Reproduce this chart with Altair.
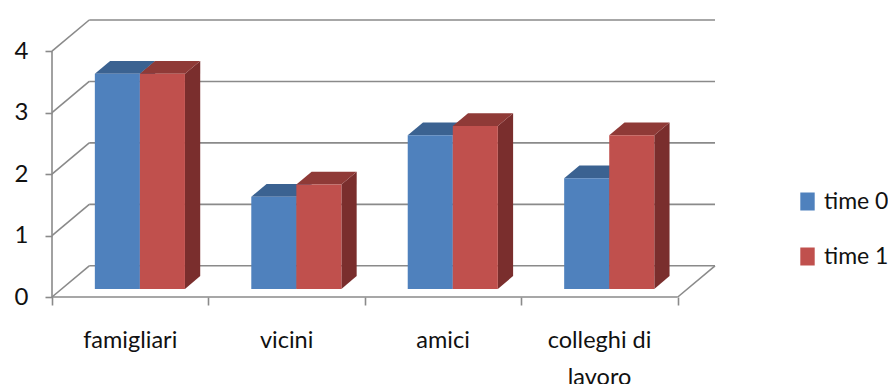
import altair as alt
import pandas as pd

# Mean scores per relationship type at two time points
categories = ["famigliari", "vicini", "amici", "colleghi di lavoro"]
category_labels = ["famigliari", "vicini", "amici", "colleghi di\nlavoro"]
series = ["time 0", "time 1"]
time0 = [3.5, 1.5, 2.5, 1.8]
time1 = [3.5, 1.7, 2.65, 2.5]
y_ticks = [0, 1, 2, 3, 4]

front_colors = ["#4F81BD", "#C0504D"]
top_colors = ["#3B6291", "#8F3A37"]
side_colors = ["#2E4D73", "#7A2E2D"]

FONT = "Lato"
TEXT = "#111111"
GRID = "#8a8a8a"

# Oblique projection of the box: full depth expressed in x-slot and value units
DX, DY = 0.238, 0.508
T_FRONT, T_BACK = 0.26, 0.67   # depth fractions of the bar front and back faces
BAR_W = 0.288                  # bar width, in category-slot units
N = len(categories)

values = [time0, time1]
fronts, tops, sides = [], [], []
for i, cat in enumerate(categories):
    for s, name in enumerate(series):
        v = values[s][i]
        x0 = i + 0.5 - BAR_W + s * BAR_W + T_FRONT * DX
        x1 = x0 + BAR_W
        base = T_FRONT * DY
        fronts.append(dict(cat=cat, series=name, x0=x0, x1=x1, y0=base, y1=v + base))
        ddx = (T_BACK - T_FRONT) * DX
        ddy = (T_BACK - T_FRONT) * DY
        face = f"{cat}-{name}"
        tops.append(dict(face=face, fill=top_colors[s], yy=v + base, xa=x0, xb=x1))
        tops.append(dict(face=face, fill=top_colors[s], yy=v + base + ddy, xa=x0 + ddx, xb=x1 + ddx))
        sides.append(dict(face=face, fill=side_colors[s], xx=x1, ya=base, yb=v + base))
        sides.append(dict(face=face, fill=side_colors[s], xx=x1 + ddx, ya=base + ddy, yb=v + base + ddy))

fronts = pd.DataFrame(fronts)
tops = pd.DataFrame(tops)
sides = pd.DataFrame(sides)

# Wall, floor and axis lines
lines = []
for v in y_ticks:
    lines.append(dict(x=DX, x2=N + DX, y=v + DY, y2=v + DY))   # back wall gridline
    lines.append(dict(x=0, x2=DX, y=v, y2=v + DY))             # left wall diagonal
lines.append(dict(x=0, x2=N, y=0, y2=0))                       # floor front edge
lines.append(dict(x=N, x2=N + DX, y=0, y2=DY))                 # floor right edge
lines.append(dict(x=0, x2=0, y=0, y2=max(y_ticks)))            # value axis line
lines = pd.DataFrame(lines)

labels = pd.DataFrame(dict(label=category_labels, pos=[i + 0.5 for i in range(N)]))

xs = alt.Scale(domain=[0, N + DX], nice=False, zero=False)
ys = alt.Scale(domain=[0, max(y_ticks) + DY], nice=False, zero=False)

x_axis = alt.Axis(values=list(range(N + 1)), title=None, domain=False, grid=False,
                  labels=False, tickSize=8, tickColor=GRID, tickWidth=1.6)
y_axis = alt.Axis(values=y_ticks, title=None, domain=False, grid=False, tickSize=7,
                  tickColor=GRID, tickWidth=1.6, labelFont=FONT, labelFontSize=24,
                  labelColor=TEXT, labelPadding=17)

frame = alt.Chart(lines).mark_rule(color=GRID, strokeWidth=1.6).encode(
    x=alt.X("x:Q", scale=xs, axis=x_axis),
    x2="x2:Q",
    y=alt.Y("y:Q", scale=ys, axis=y_axis),
    y2="y2:Q",
)

side_layer = alt.Chart(sides).mark_area(orient="vertical").encode(
    x=alt.X("xx:Q", scale=xs, axis=x_axis, stack=None),
    y=alt.Y("ya:Q", scale=ys, axis=y_axis, stack=None),
    y2="yb:Q",
    detail="face:N",
    color=alt.Color("fill:N", scale=None),
)

top_layer = alt.Chart(tops).mark_area(orient="horizontal").encode(
    y=alt.Y("yy:Q", scale=ys, axis=y_axis, stack=None),
    x=alt.X("xa:Q", scale=xs, axis=x_axis, stack=None),
    x2="xb:Q",
    detail="face:N",
    color=alt.Color("fill:N", scale=None),
)

# Legend swatch: a slightly tall rectangle
symbol_path = "M-0.8,-1H0.8V1H-0.8Z"
front_layer = alt.Chart(fronts).mark_rect().encode(
    x=alt.X("x0:Q", scale=xs, axis=x_axis),
    x2="x1:Q",
    y=alt.Y("y0:Q", scale=ys, axis=y_axis),
    y2="y1:Q",
    color=alt.Color("series:N", scale=alt.Scale(domain=series, range=front_colors),
                    legend=alt.Legend(orient="none", legendX=744, legendY=170, title=None,
                                      symbolType=symbol_path, symbolSize=324,
                                      symbolStrokeWidth=0, labelFont=FONT,
                                      labelFontSize=23, labelColor=TEXT,
                                      labelOffset=5, rowPadding=31)),
)

label_layer = alt.Chart(labels).mark_text(
    font=FONT, fontSize=23.5, color=TEXT, align="center", baseline="alphabetic",
    lineBreak="\n", lineHeight=37,
).encode(
    x=alt.X("pos:Q", scale=xs, axis=x_axis),
    y=alt.value(328),
    text="label:N",
)

chart = alt.layer(frame, side_layer, top_layer, front_layer, label_layer).properties(
    width=663,
    height=277,
    autosize=alt.AutoSizeParams(type="none"),
    padding={"left": 52, "top": 20, "right": 173, "bottom": 87},
    background="white",
).configure_view(stroke=None)

chart.save("out.html", embed_options={"renderer": "svg", "actions": False})
